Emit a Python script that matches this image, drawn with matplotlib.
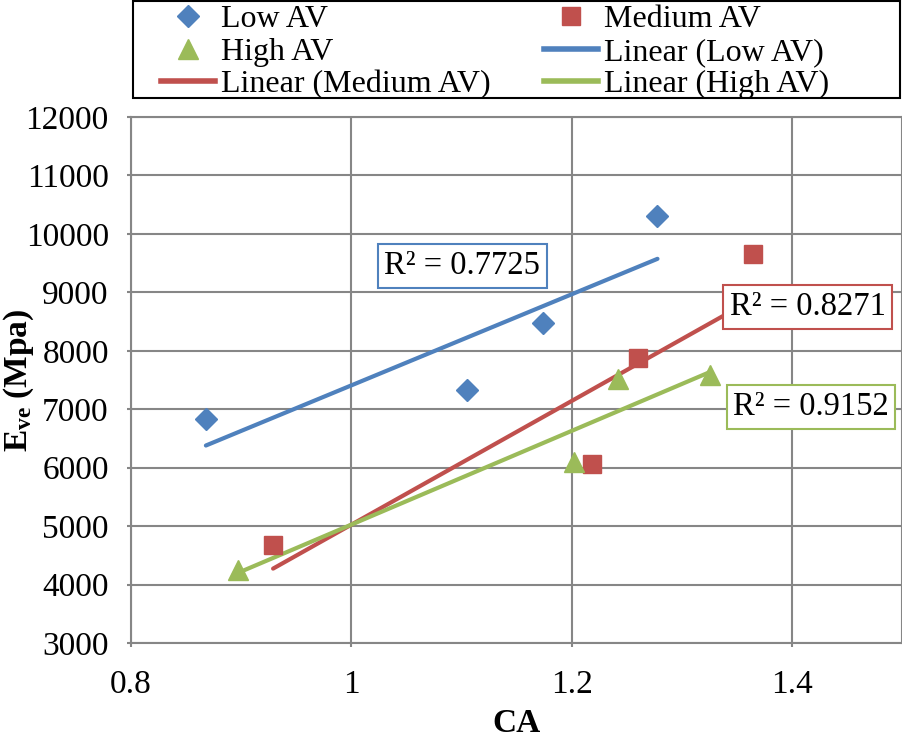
import numpy as np
import matplotlib
matplotlib.use("Agg")
import matplotlib.pyplot as plt
from matplotlib.lines import Line2D
from matplotlib.patches import Rectangle

plt.rcParams['font.family'] = ['Liberation Serif', 'DejaVu Serif']
plt.rcParams['mathtext.fontset'] = 'custom'
plt.rcParams['mathtext.rm'] = 'Liberation Serif'
plt.rcParams['mathtext.bf'] = 'Liberation Serif:bold'

# data
low_x = [0.868, 1.105, 1.174, 1.278]
low_y = [6830, 7330, 8475, 10306]
med_x = [0.929, 1.219, 1.260, 1.3645]
med_y = [4676, 6062, 7876, 9656]
high_x = [0.897, 1.202, 1.242, 1.326]
high_y = [4249, 6097, 7517, 7585]
r2_labels = ["R² = 0.7725", "R² = 0.8271", "R² = 0.9152"]

blue = '#4F81BD'
red = '#C0504D'
green = '#9BBB59'
grid = '#868686'

fig = plt.figure(figsize=(9.02, 7.40), dpi=100)
ax = fig.add_axes([131/902, 97/740, 771/902, 526/740])

ax.set_xlim(0.8, 1.5)
ax.set_ylim(3000, 12000)
ax.set_xticks([0.8, 1.0, 1.2, 1.4])
ax.set_xticklabels(['0.8', '1', '1.2', '1.4'])
ax.set_yticks(np.arange(3000, 12001, 1000))
ax.grid(True, color=grid, linewidth=1.5)
ax.set_axisbelow(True)
for s in ax.spines.values():
    s.set_color(grid)
    s.set_linewidth(1.5)
ax.tick_params(colors=grid, labelcolor='black', labelsize=24, length=3, width=1.5)
ax.tick_params(axis='y', pad=13)
ax.tick_params(axis='x', pad=16)

# trend lines (least squares over each series range)
series = [(low_x, low_y, blue), (med_x, med_y, red), (high_x, high_y, green)]
for xs, ys, c in series:
    k, b = np.polyfit(xs, ys, 1)
    xx = np.array([min(xs), max(xs)])
    ax.plot(xx, k * xx + b, color=c, linewidth=3, solid_capstyle='round', zorder=2)

ax.plot(low_x, low_y, 'D', color=blue, markersize=11, linestyle='none', zorder=3)
ax.plot(med_x, med_y, 's', color=red, markersize=13, linestyle='none', zorder=3)
ax.plot(high_x, high_y, '^', color=green, markersize=14, linestyle='none', zorder=3)

# R^2 boxes
box_pos = [(1.1009, 9450), (1.4145, 8749), (1.4173, 7038)]
for (bx, by), lab, c in zip(box_pos, r2_labels, [blue, red, green]):
    ax.text(bx, by, lab, fontsize=23.5, ha='center', va='center', zorder=4,
            bbox=dict(boxstyle='square,pad=0.2', fc='white', ec=c, lw=1.5))

ax.set_xlabel('CA', fontsize=24, fontweight='bold', labelpad=6)
fig.text(19/902, 1 - 380/740, r'$\mathbf{E_{ve}}$ (Mpa)', fontsize=24,
         fontweight='bold', rotation=90, ha='center', va='center')

# legend, ordered to fill row by row like the original
h_low = Line2D([], [], marker='D', color=blue, linestyle='none', markersize=11)
h_med = Line2D([], [], marker='s', color=red, linestyle='none', markersize=13)
h_high = Line2D([], [], marker='^', color=green, linestyle='none', markersize=14)
l_low = Line2D([], [], color=blue, linewidth=4)
l_med = Line2D([], [], color=red, linewidth=4)
l_high = Line2D([], [], color=green, linewidth=4)
handles = [h_low, h_high, l_med, h_med, l_low, l_high]
labels = ['Low AV', 'High AV', 'Linear (Medium AV)',
          'Medium AV', 'Linear (Low AV)', 'Linear (High AV)']
leg = fig.legend(handles, labels, ncol=2, loc='upper left',
                 bbox_to_anchor=(161/902, 1 - 5/740),
                 fontsize=23, frameon=False, handlelength=1.69,
                 handletextpad=0.19, labelspacing=0.10, borderpad=0,
                 columnspacing=1.66, borderaxespad=0)
fig.patches.append(Rectangle((133/902, 1 - 98/740), 767/902, 97/740,
                             transform=fig.transFigure, fill=False,
                             edgecolor='black', linewidth=1.5))

fig.savefig('out.png', dpi=100)
